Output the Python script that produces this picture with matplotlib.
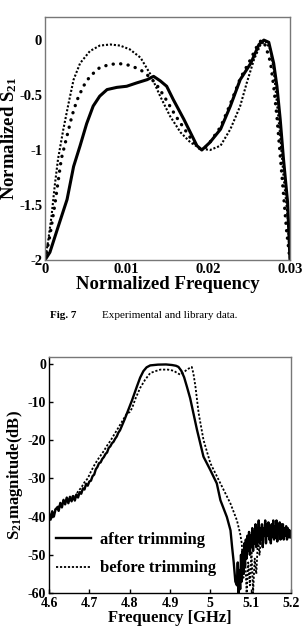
import numpy as np
import matplotlib
matplotlib.use("Agg")
import matplotlib.pyplot as plt

plt.rcParams['font.family'] = ['Liberation Serif', 'DejaVu Serif']
plt.rcParams['font.weight'] = 'bold'
plt.rcParams['axes.labelweight'] = 'bold'
plt.rcParams['mathtext.fontset'] = 'custom'
plt.rcParams['mathtext.rm'] = 'Liberation Serif:bold'
plt.rcParams['mathtext.it'] = 'Liberation Serif:bold'
plt.rcParams['mathtext.bf'] = 'Liberation Serif:bold'

# ---- Fig. 7: normalized S21 (experiment vs library) ----
exp_x = [0, 0.0006, 0.0016, 0.0027, 0.0035, 0.0043, 0.0051, 0.0059, 0.0067, 0.0076, 0.0088,
         0.0100, 0.0112, 0.0125, 0.0133, 0.0141, 0.0149, 0.0157, 0.0170, 0.0178, 0.0186,
         0.0192, 0.0202, 0.0215, 0.0227, 0.0239, 0.0252, 0.0262, 0.0268, 0.0274, 0.0280,
         0.0284, 0.0288, 0.0292, 0.0297, 0.0300]
exp_y = [-2.0, -1.93, -1.70, -1.45, -1.15, -0.96, -0.76, -0.60, -0.51, -0.45, -0.43,
         -0.42, -0.39, -0.36, -0.33, -0.37, -0.42, -0.54, -0.72, -0.84, -0.96,
         -1.0, -0.93, -0.81, -0.60, -0.36, -0.21, -0.04, 0.0, -0.02, -0.21,
         -0.42, -0.72, -1.08, -1.47, -2.0]

libA_x = [0, 0.0004, 0.0008, 0.0012, 0.0016, 0.00225, 0.0029, 0.0035, 0.0043, 0.0055, 0.0067,
          0.0080, 0.0092, 0.0104, 0.0117, 0.0129, 0.0141, 0.0153, 0.0166, 0.0178, 0.0190,
          0.0202, 0.0215, 0.0227, 0.0239, 0.0247, 0.0256, 0.0264, 0.0270, 0.0276, 0.0280,
          0.0284, 0.0288, 0.0292, 0.0297, 0.0300]
libA_y = [-2.0, -1.82, -1.6, -1.32, -1.08, -0.81, -0.57, -0.36, -0.21, -0.10, -0.05,
          -0.04, -0.05, -0.085, -0.16, -0.31, -0.51, -0.69, -0.84, -0.93, -0.985,
          -1.0, -0.96, -0.81, -0.60, -0.39, -0.175, -0.04, -0.01, -0.085, -0.27,
          -0.57, -0.87, -1.23, -1.6, -2.0]

libB_x = [0, 0.0006, 0.0012, 0.0016, 0.0020, 0.0027, 0.0033, 0.0039, 0.0047, 0.0055, 0.0067,
          0.0080, 0.0092, 0.0104, 0.0117, 0.0129, 0.0139, 0.0149, 0.0160, 0.0170, 0.0180,
          0.0188, 0.0193, 0.0200, 0.0215, 0.0227, 0.0239, 0.0250, 0.0260, 0.0265, 0.0270,
          0.0276, 0.0280, 0.0284, 0.0288, 0.0292, 0.0296, 0.0300]
libB_y = [-2.0, -1.78, -1.5, -1.29, -1.08, -0.87, -0.69, -0.55, -0.42, -0.33, -0.25,
          -0.22, -0.215, -0.23, -0.27, -0.34, -0.43, -0.55, -0.69, -0.80, -0.91,
          -0.98, -1.0, -0.95, -0.79, -0.58, -0.35, -0.20, -0.05, 0.0, -0.05,
          -0.20, -0.42, -0.70, -1.05, -1.40, -1.75, -2.0]

top_xticks = [0, 0.01, 0.02, 0.03]
top_xticklabels = ['0', '0.01', '0.02', '0.03']
top_yticks = [0, -0.5, -1, -1.5, -2]
top_yticklabels = ['0', '-0.5', '-1', '-1.5', '-2']

# ---- S21 magnitude before / after trimming ----
after_x = list(np.round(np.arange(4.600, 4.8001, 0.004), 3)) + [
    4.806, 4.812, 4.818, 4.826, 4.834, 4.842, 4.851, 4.870, 4.890, 4.905, 4.915, 4.921,
    4.928, 4.935, 4.942, 4.950, 4.958, 4.967, 4.983, 5.000, 5.016, 5.025, 5.041, 5.050,
    5.054, 5.058, 5.062] + list(np.round(np.arange(5.066, 5.2001, 0.002), 3))
after_y = [-39.0, -40.8, -38.6, -40.0, -38.2, -37.6, -38.5, -36.4, -37.6, -35.6, -36.8,
           -35.0, -36.5, -34.8, -36.0, -34.6, -35.8, -34.2, -35.0, -33.6, -34.0, -32.6,
           -32.9, -31.4, -31.9, -30.8, -30.6, -29.4, -29.0, -27.6, -27.0, -26.0, -25.8,
           -24.9, -24.4, -23.6, -23.2, -22.0, -21.6, -20.8, -20.4, -19.6, -19.0, -18.0,
           -17.4, -16.4, -15.4, -14.4, -13.3, -12.2, -11.1] + [
           -9.5, -7.7, -5.9, -3.6, -1.9, -0.9, -0.4, -0.2, -0.15, -0.3, -0.5, -0.8,
           -1.8, -3.5, -6.0, -9.0, -12.9, -17.3, -24.3, -27.8, -31.3, -35.7, -40.1, -43.6,
           -48.0, -52.0, -57.0] + [
           -58, -52, -60, -54, -59, -50, -57, -49, -55, -47, -53, -46, -51, -45, -49,
           -44, -50, -45, -48, -43, -49, -44, -47, -42, -48, -43, -46, -41, -47, -43,
           -46, -42, -48, -43, -45, -41, -47, -42, -45, -41.5, -46, -43, -47, -42, -45,
           -41, -46, -42.5, -45, -41, -46.5, -42, -44.5, -41.5, -46, -42, -45, -42, -46,
           -43, -45, -42.5, -46, -43, -45, -43.5, -45.5, -44]

before_x = list(np.round(np.arange(4.600, 4.8001, 0.008), 3)) + [
    4.806, 4.814, 4.826, 4.838, 4.851, 4.864, 4.876, 4.895, 4.909, 4.918, 4.925, 4.933,
    4.942, 4.950, 4.954, 4.958, 4.963, 4.971, 4.983, 5.000, 5.025, 5.050, 5.066, 5.074] + \
    list(np.round(np.arange(5.078, 5.2001, 0.004), 3))
before_y = [-39.4, -40.2, -38.0, -37.2, -36.2, -35.4, -35.6, -34.6, -34.9, -33.4, -32.4,
            -31.0, -30.0, -28.2, -26.6, -25.2, -24.0, -22.8, -21.4, -20.2, -18.8, -17.4,
            -16.0, -14.6, -13.2, -12.6] + [
            -11.6, -9.2, -6.3, -4.2, -2.4, -1.9, -1.5, -1.5, -1.8, -2.4, -2.8, -2.3,
            -1.5, -1.0, -0.8, -2.5, -5.9, -12.9, -19.9, -26.0, -31.3, -36.6, -41.0, -44.5] + [
            -47, -56, -50, -60, -52, -58, -49, -60, -51, -55, -46, -50, -45, -47, -44,
            -46, -43, -46, -44, -45.5, -43, -46, -44, -45, -43.5, -46, -44, -45, -44, -45.5,
            -44]

bot_xticks = [4.6, 4.7, 4.8, 4.9, 5.0, 5.1, 5.2]
bot_xticklabels = ['4.6', '4.7', '4.8', '4.9', '5', '5.1', '5.2']
bot_yticks = [0, -10, -20, -30, -40, -50, -60]
bot_yticklabels = ['0', '-10', '-20', '-30', '-40', '-50', '-60']

W, H = 302, 626
fig = plt.figure(figsize=(W / 100, H / 100), dpi=100)

def box(l, t, r, b):
    return [l / W, 1 - b / H, (r - l) / W, (b - t) / H]

# top panel
ax1 = fig.add_axes(box(45, 17, 290, 260))
ax1.plot(libA_x, libA_y, color='black', lw=1.5, linestyle=(0, (1, 0.9)))
ax1.plot(libB_x, libB_y, color='black', lw=2.4, linestyle=(0, (0.05, 2.2)),
         dash_capstyle='round')
ax1.plot(exp_x, exp_y, color='black', lw=2.2)
ax1.set_xlim(0, 0.03)
ax1.set_ylim(-2, 0.21)
ax1.set_xticks(top_xticks)
ax1.set_xticklabels(top_xticklabels)
ax1.set_yticks(top_yticks)
ax1.set_yticklabels(top_yticklabels)
ax1.tick_params(length=0, labelsize=10.5, pad=2)
for s in ax1.spines.values():
    s.set_color('#777777')
    s.set_linewidth(1.0)
ax1.set_xlabel('Normalized Frequency', fontsize=13.5, labelpad=0)
ax1.set_ylabel('Normalized S$_{21}$', fontsize=13.5, labelpad=0)

fig.text(50 / W, 1 - 318 / H, 'Fig. 7', fontsize=8, weight='bold', va='baseline')
fig.text(102 / W, 1 - 318 / H, 'Experimental and library data.', fontsize=8,
         weight='normal', va='baseline')

# bottom panel
ax2 = fig.add_axes(box(49, 357, 291, 593))
ax2.plot(before_x, before_y, color='black', lw=1.3, linestyle=(0, (1.2, 1.0)),
         label='before trimming')
ax2.plot(after_x, after_y, color='black', lw=1.7, label='after trimming')
ax2.set_xlim(4.6, 5.2)
ax2.set_ylim(-60, 1.8)
ax2.set_xticks(bot_xticks)
ax2.set_xticklabels(bot_xticklabels)
ax2.set_yticks(bot_yticks)
ax2.set_yticklabels(bot_yticklabels)
ax2.tick_params(direction='in', length=3, width=1, labelsize=10, pad=2)
ax2.tick_params(axis='x', pad=3)
ax2.spines['left'].set_color('black')
ax2.spines['bottom'].set_color('black')
ax2.spines['top'].set_color('#777777')
ax2.spines['right'].set_color('#777777')
for s in ax2.spines.values():
    s.set_linewidth(1.0)
ax2.set_xlabel('Frequency [GHz]', fontsize=12, labelpad=0)
ax2.set_ylabel('S$_{21}$magnitude(dB)', fontsize=12, labelpad=2)

h, l = ax2.get_legend_handles_labels()
ax2.legend(h[::-1], l[::-1], loc='lower left', bbox_to_anchor=(0.03, 0.07),
           frameon=False, fontsize=12, handlelength=2.1, handletextpad=0.5,
           labelspacing=0.75, borderpad=0, borderaxespad=0)

fig.savefig('out.png', dpi=100)
